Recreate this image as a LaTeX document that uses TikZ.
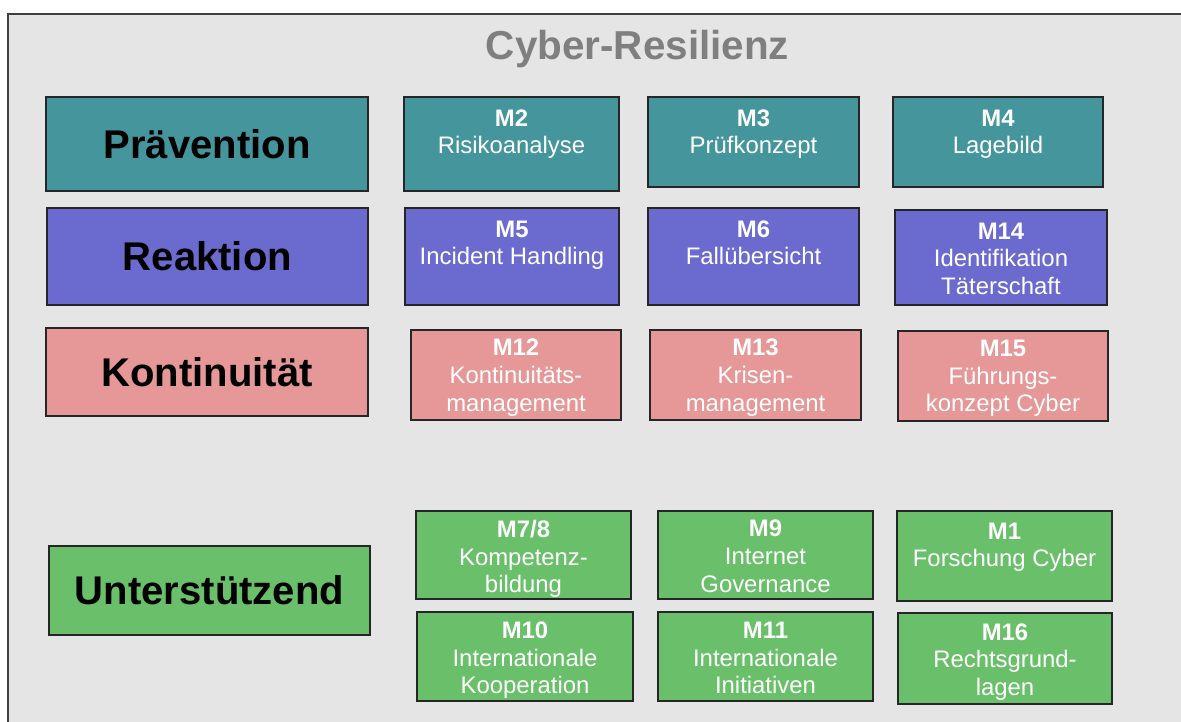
\documentclass[tikz,border=0pt]{standalone}
\usepackage{fontspec}
\setmainfont{Liberation Sans}
\usetikzlibrary{positioning}

\definecolor{bggray}{HTML}{E5E5E5}
\definecolor{framegray}{HTML}{404040}
\definecolor{titlegray}{HTML}{7F7F7F}
\definecolor{praevcol}{HTML}{45969C}
\definecolor{reaktcol}{HTML}{6B6BCF}
\definecolor{konticol}{HTML}{E69797}
\definecolor{untercol}{HTML}{6AC06A}

\tikzset{
  sz/.style 2 args={minimum width=#1*0.02cm, minimum height=#2*0.02cm},
  catbox/.style={draw=black!85, line width=0.85pt, inner sep=0pt, text=black,
    font=\fontsize{22.8}{26}\selectfont\bfseries},
  mbox/.style={draw=black!85, line width=0.85pt, inner sep=0pt},
  mtext/.style={anchor=north, inner sep=0pt, align=center, text=white,
    font=\fontsize{13.6}{15.7}\selectfont}
}

\begin{document}
\begin{tikzpicture}[x=0.02cm,y=-0.02cm]
\useasboundingbox (0,0) rectangle (1181,722);
\clip (0,0) rectangle (1181,722);
% frame
\draw[fill=bggray, draw=framegray, line width=0.7pt] (8,14) rectangle (1200,740);
\node (title) [font=\fontsize{23}{27}\selectfont\bfseries, text=titlegray, anchor=base] at (637.5,60) {Cyber-Resilienz};

% categories
\node (praev) [catbox, fill=praevcol, sz={322}{94}] at (207,144) {Prävention};
\node (reakt) [catbox, fill=reaktcol, sz={321}{97}] at (207.5,256.5) {Reaktion};
\node (konti) [catbox, fill=konticol, sz={322}{88}] at (207,372) {Kontinuität};
\node (unter) [catbox, fill=untercol, sz={321}{89}] at (209.5,590.5) {Unterstützend};

% Praevention
\node (m2) [mbox, fill=praevcol, sz={215}{94}] at (511.5,144) {};
\node (m2t) [mtext] at ([yshift=-7.4pt]m2.north) {\textbf{M2}\\Risikoanalyse};
\node (m3) [mbox, fill=praevcol, sz={211}{90}] at (753.5,142) {};
\node (m3t) [mtext] at ([yshift=-7.4pt]m3.north) {\textbf{M3}\\Prüfkonzept};
\node (m4) [mbox, fill=praevcol, sz={210}{90}] at (998,142) {};
\node (m4t) [mtext] at ([yshift=-7.4pt]m4.north) {\textbf{M4}\\Lagebild};

% Reaktion
\node (m5) [mbox, fill=reaktcol, sz={214}{97}] at (512,256.5) {};
\node (m5t) [mtext] at ([yshift=-7.4pt]m5.north) {\textbf{M5}\\Incident Handling};
\node (m6) [mbox, fill=reaktcol, sz={211}{97}] at (753.5,256.5) {};
\node (m6t) [mtext] at ([yshift=-7.4pt]m6.north) {\textbf{M6}\\Fallübersicht};
\node (m14) [mbox, fill=reaktcol, sz={212}{95}] at (1001,257.5) {};
\node (m14t) [mtext] at ([yshift=-7.4pt]m14.north) {\textbf{M14}\\Identifikation\\Täterschaft};

% Kontinuitaet
\node (m12) [mbox, fill=konticol, sz={210}{90}] at (516,375) {};
\node (m12t) [mtext] at ([yshift=-5.5pt]m12.north) {\textbf{M12}\\Kontinuitäts-\\management};
\node (m13) [mbox, fill=konticol, sz={211}{90}] at (755.5,375) {};
\node (m13t) [mtext] at ([yshift=-5.5pt]m13.north) {\textbf{M13}\\Krisen-\\management};
\node (m15) [mbox, fill=konticol, sz={210}{90}] at (1003,376) {};
\node (m15t) [mtext] at ([yshift=-5.5pt]m15.north) {\textbf{M15}\\Führungs-\\konzept Cyber};

% Unterstuetzend
\node (m78) [mbox, fill=untercol, sz={215}{88}] at (523.5,555) {};
\node (m78t) [mtext] at ([yshift=-5.5pt]m78.north) {\textbf{M7/8}\\Kompetenz-\\bildung};
\node (m9) [mbox, fill=untercol, sz={215}{88}] at (765.5,555) {};
\node (m9t) [mtext] at ([yshift=-5.5pt]m9.north) {\textbf{M9}\\Internet\\Governance};
\node (m1) [mbox, fill=untercol, sz={215}{90}] at (1004.5,556) {};
\node (m1t) [mtext] at ([yshift=-7pt]m1.north) {\textbf{M1}\\Forschung Cyber};
\node (m10) [mbox, fill=untercol, sz={216}{89}] at (525,656.5) {};
\node (m10t) [mtext] at ([yshift=-6pt]m10.north) {\textbf{M10}\\Internationale\\Kooperation};
\node (m11) [mbox, fill=untercol, sz={215}{89}] at (765.5,656.5) {};
\node (m11t) [mtext] at ([yshift=-6pt]m11.north) {\textbf{M11}\\Internationale\\Initiativen};
\node (m16) [mbox, fill=untercol, sz={214}{91}] at (1005,658.5) {};
\node (m16t) [mtext] at ([yshift=-6.2pt]m16.north) {\textbf{M16}\\Rechtsgrund-\\lagen};
\end{tikzpicture}
\end{document}
